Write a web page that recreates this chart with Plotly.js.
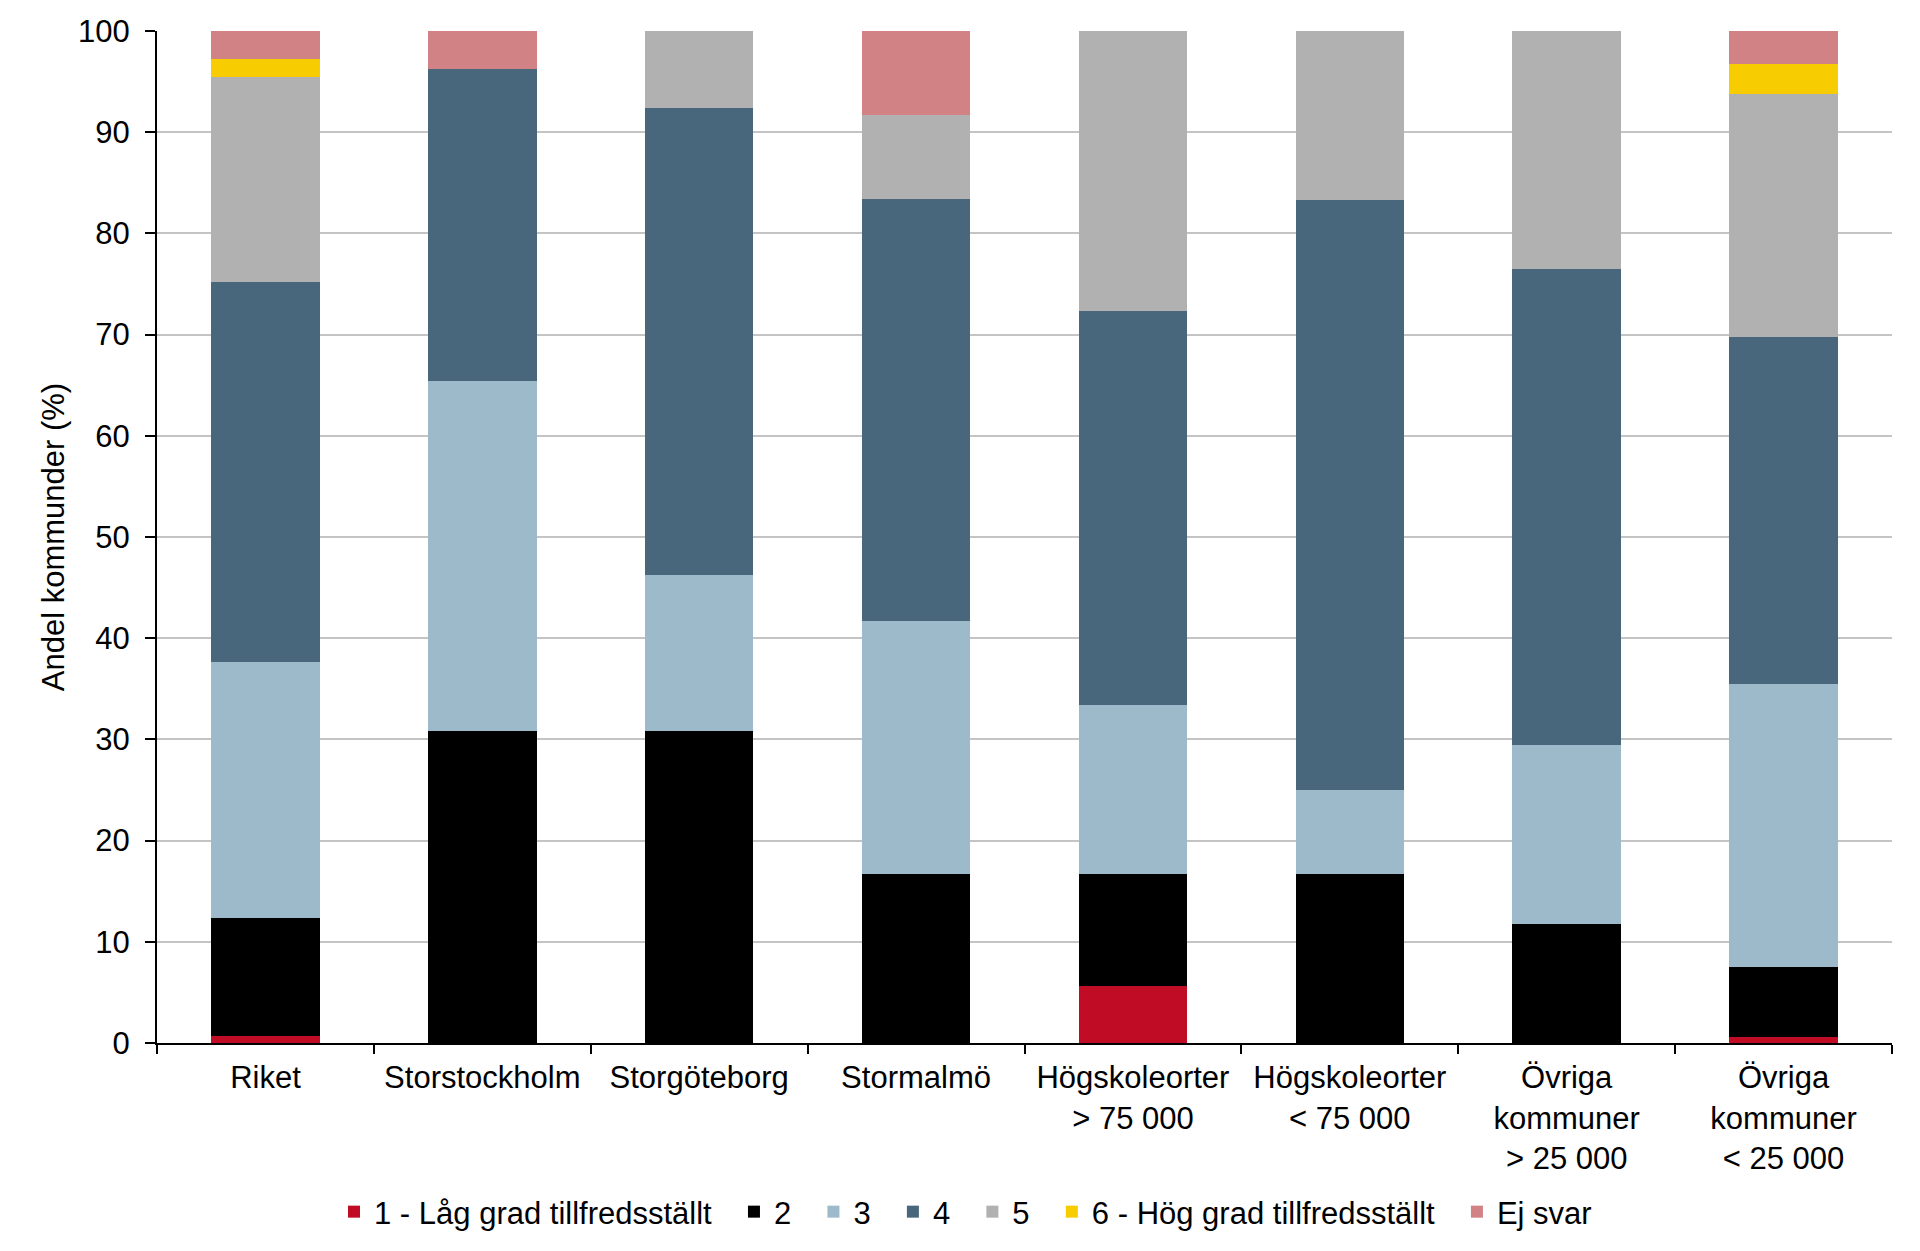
<!DOCTYPE html>
<html>
<head>
<meta charset="utf-8">
<script src="https://cdn.plot.ly/plotly-3.0.1.min.js"></script>
<style>
html,body{margin:0;padding:0;background:#fff;}
#chart{width:1920px;height:1251px;}
</style>
</head>
<body>
<div id="chart"></div>
<script>
var categories = [
  "Riket",
  "Storstockholm",
  "Storgöteborg",
  "Stormalmö",
  "Högskoleorter<br>> 75 000",
  "Högskoleorter<br>< 75 000",
  "Övriga<br>kommuner<br>> 25 000",
  "Övriga<br>kommuner<br>< 25 000"
];
var seriesNames = ["1 - Låg grad tillfredsställt", "2", "3", "4", "5", "6 - Hög grad tillfredsställt", "Ej svar"];
var s1  = [0.7, 0,    0,    0,    5.6,  0,    0,    0.6];
var s2  = [11.7, 30.8, 30.8, 16.7, 11.1, 16.7, 11.8, 6.9];
var s3  = [25.2, 34.6, 15.4, 25.0, 16.7, 8.3,  17.6, 28.0];
var s4  = [37.6, 30.8, 46.2, 41.7, 38.9, 58.3, 47.1, 34.3];
var s5  = [20.3, 0,    7.7,  8.3,  27.8, 16.7, 23.5, 24.0];
var s6  = [1.7,  0,    0,    0,    0,    0,    0,    2.9];
var sEj = [2.8,  3.8,  0,    8.3,  0,    0,    0,    3.4];
var seriesValues = [s1, s2, s3, s4, s5, s6, sEj];
var colors = ["#c00c24", "#000000", "#9dbacb", "#48677c", "#b1b1b1", "#f7cc00", "#d08285"];
var yTicks = [0,10,20,30,40,50,60,70,80,90,100];

var FONT = "Arial, 'Liberation Sans', sans-serif";
var PAD = "\u00a0\u00a0";
var traces = seriesValues.map(function(vals, i){
  return {
    type: "bar",
    name: seriesNames[i] + (i < seriesNames.length - 1 ? PAD : ""),
    x: categories,
    y: vals,
    marker: {color: colors[i], line: {width: 0}},
    hoverinfo: "x+y+name"
  };
});

var layout = {
  barmode: "stack",
  bargap: 0.5,
  width: 1920,
  height: 1251,
  paper_bgcolor: "#ffffff",
  plot_bgcolor: "#ffffff",
  margin: {l: 157, r: 28, t: 31, b: 208},
  font: {family: FONT, size: 31, color: "#000000"},
  showlegend: true,
  legend: {
    orientation: "h",
    x: 0.466, xanchor: "center",
    y: -0.167, yanchor: "middle",
    font: {family: FONT, size: 31, color: "#000000"},
    itemwidth: 30,
    traceorder: "normal"
  },
  xaxis: {
    type: "category",
    range: [-0.5, 7.5],
    showline: true, linecolor: "#000000", linewidth: 2,
    ticks: "outside", tickson: "boundaries", ticklen: 9, tickwidth: 2, tickcolor: "#000000",
    ticklabelstandoff: 6,
    showgrid: false,
    tickfont: {family: FONT, size: 31, color: "#000000"},
    automargin: false
  },
  yaxis: {
    range: [0, 100],
    tickvals: yTicks,
    ticktext: yTicks.map(String),
    showline: true, linecolor: "#000000", linewidth: 2,
    ticks: "outside", ticklen: 10, tickwidth: 2, tickcolor: "#000000",
    ticklabelstandoff: 9,
    showgrid: true, gridcolor: "#c4c4c4", gridwidth: 2,
    zeroline: false,
    tickfont: {family: FONT, size: 31, color: "#000000"},
    title: {text: "Andel kommunder (%)", font: {family: FONT, size: 31, color: "#000000"}, standoff: 4},
    automargin: false
  }
};

Plotly.newPlot("chart", traces, layout, {displayModeBar: false, staticPlot: true});
</script>
</body>
</html>
